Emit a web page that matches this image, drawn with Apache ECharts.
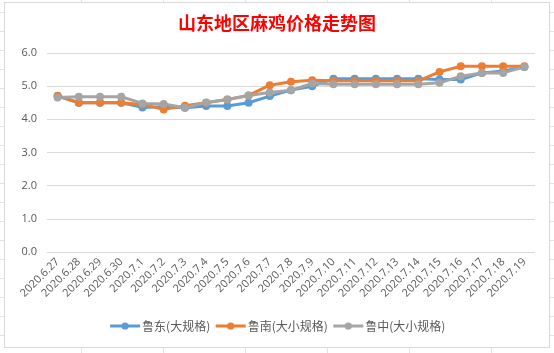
<!DOCTYPE html>
<html>
<head>
<meta charset="utf-8">
<script src="https://cdn.jsdelivr.net/npm/echarts@6/dist/echarts.min.js"></script>
<style>
    html, body {
        margin: 0;
        padding: 0;
        width: 554px;
        height: 353px;
        overflow: hidden;
        background-color: #fff;
        background-image:
            repeating-linear-gradient(to right, transparent 0, transparent 81px, #e3e3e3 81px, #e3e3e3 82px, transparent 82px, transparent 72px),
            repeating-linear-gradient(to bottom, transparent 0, transparent 12px, #e3e3e3 12px, #e3e3e3 13px, transparent 13px, transparent 19px);
    }
    #frame {
        position: absolute;
        left: 4px;
        top: 2px;
        width: 544px;
        height: 344px;
        background: #fff;
        border: 1px solid #d9d9d9;
    }
    #chart {
        position: absolute;
        left: 0;
        top: 0;
        width: 554px;
        height: 353px;
    }
</style>
</head>
<body>
<div id="frame"></div>
<div id="chart"></div>
<script>
    var dates = ['2020.6.27', '2020.6.28', '2020.6.29', '2020.6.30', '2020.7.1', '2020.7.2',
        '2020.7.3', '2020.7.4', '2020.7.5', '2020.7.6', '2020.7.7', '2020.7.8', '2020.7.9',
        '2020.7.10', '2020.7.11', '2020.7.12', '2020.7.13', '2020.7.14', '2020.7.15',
        '2020.7.16', '2020.7.17', '2020.7.18', '2020.7.19'];

    var ludong = [4.7, 4.5, 4.5, 4.5, 4.36, 4.38, 4.35, 4.4, 4.4, 4.5, 4.7, 4.88, 5.0,
        5.22, 5.22, 5.22, 5.22, 5.22, 5.2, 5.2, 5.4, 5.46, 5.58];
    var lunan = [4.71, 4.5, 4.5, 4.5, 4.45, 4.3, 4.41, 4.5, 4.6, 4.72, 5.03, 5.13, 5.18,
        5.16, 5.16, 5.16, 5.16, 5.16, 5.43, 5.6, 5.6, 5.6, 5.6];
    var luzhong = [4.66, 4.68, 4.68, 4.68, 4.48, 4.46, 4.35, 4.51, 4.6, 4.72, 4.81, 4.88, 5.08,
        5.06, 5.06, 5.06, 5.06, 5.06, 5.1, 5.3, 5.4, 5.4, 5.58];

    var seriesNames = ['鲁东(大规格)', '鲁南(大小规格)', '鲁中(大小规格)'];
    var colors = ['#5b9bd5', '#ed7d31', '#a5a5a5'];

    var chart = echarts.init(document.getElementById('chart'));

    function lineSeries(name, data) {
        return {
            name: name,
            type: 'line',
            data: data,
            symbol: 'circle',
            symbolSize: 8,
            lineStyle: { width: 3 },
            emphasis: { disabled: true }
        };
    }

    chart.setOption({
        color: colors,
        animation: false,
        title: {
            text: '山东地区麻鸡价格走势图',
            left: 'center',
            top: 9,
            textStyle: {
                color: '#ff0000',
                fontSize: 18,
                fontWeight: 'bold',
                fontFamily: 'Noto Sans CJK SC'
            }
        },
        legend: {
            data: seriesNames,
            bottom: 16,
            left: 'center',
            itemWidth: 30,
            itemHeight: 9,
            itemGap: 4,
            lineStyle: { width: 3 },
            textStyle: {
                color: '#595959',
                fontSize: 12,
                fontFamily: 'Noto Sans CJK SC',
                padding: [0, 0, 0, -3]
            }
        },
        grid: {
            left: 47,
            right: 19,
            top: 53,
            bottom: 101
        },
        xAxis: {
            type: 'category',
            data: dates,
            boundaryGap: true,
            axisLine: { show: false },
            axisTick: { show: false },
            axisLabel: {
                rotate: 45,
                interval: 0,
                margin: 8,
                color: '#595959',
                fontSize: 11,
                fontFamily: 'Open Sans'
            }
        },
        yAxis: {
            type: 'value',
            min: 0,
            max: 6,
            interval: 1,
            axisLabel: {
                formatter: function (v) { return v.toFixed(1); },
                color: '#595959',
                fontSize: 11,
                fontFamily: 'Open Sans',
                margin: 10
            },
            splitLine: { lineStyle: { color: '#d9d9d9' } }
        },
        series: [
            lineSeries(seriesNames[0], ludong),
            lineSeries(seriesNames[1], lunan),
            lineSeries(seriesNames[2], luzhong)
        ]
    });
</script>
</body>
</html>
